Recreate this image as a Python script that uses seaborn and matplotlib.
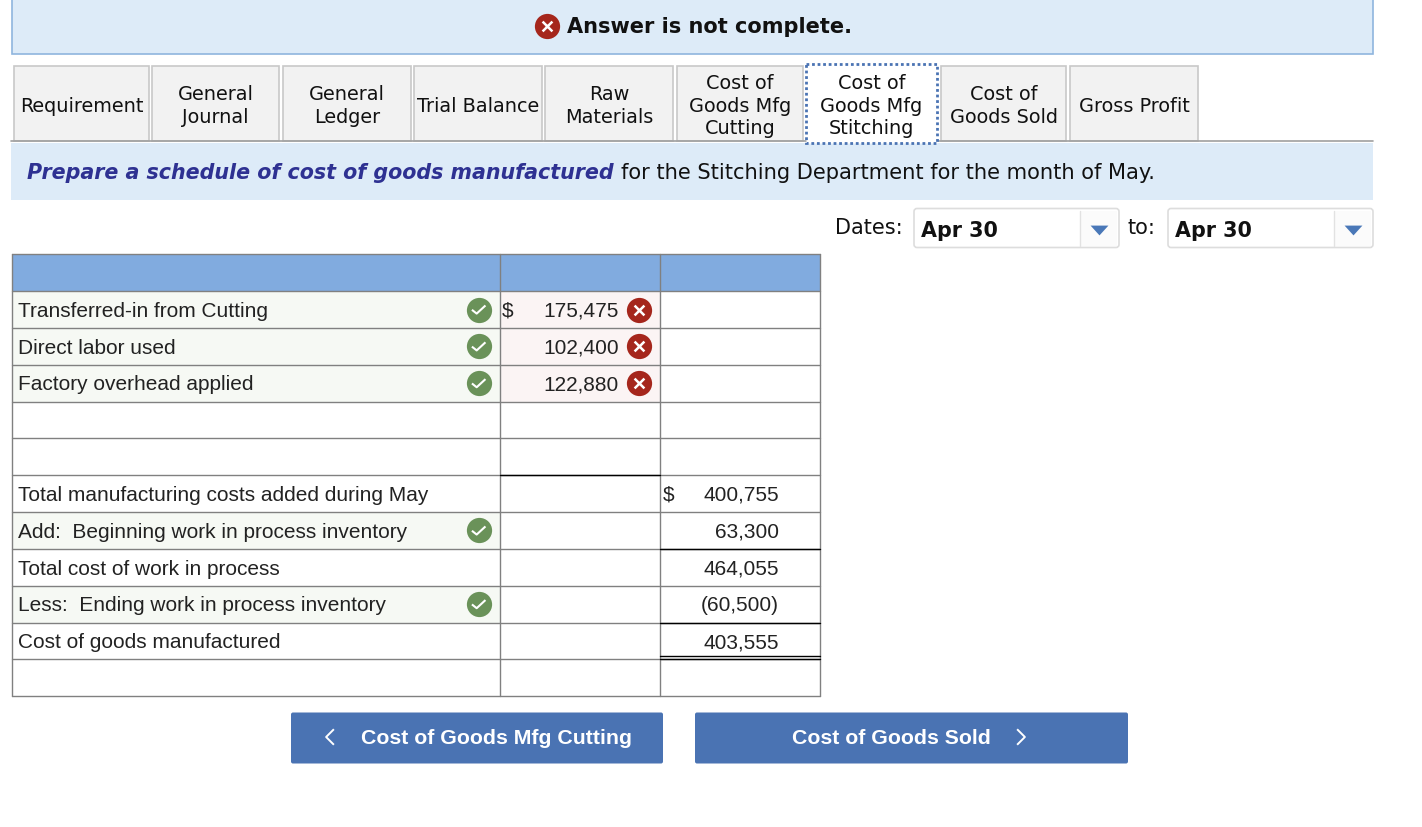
import numpy as np
import pandas as pd
import matplotlib
matplotlib.use("Agg")
import matplotlib.pyplot as plt
import seaborn as sns
from matplotlib.patches import Rectangle, FancyBboxPatch
from matplotlib.path import Path

# Table content
row_labels = ["", "Transferred-in from Cutting", "Direct labor used", "Factory overhead applied", "", "",
              "Total manufacturing costs added during May", "Add:  Beginning work in process inventory",
              "Total cost of work in process", "Less:  Ending work in process inventory",
              "Cost of goods manufactured", ""]
col1_values = ["", "175,475", "102,400", "122,880", "", "", "", "", "", "", "", ""]
col2_values = ["", "", "", "", "", "", "400,755", "63,300", "464,055", "(60,500)", "403,555", ""]
dollar_col1 = [1]
dollar_col2 = [6]
check_rows = [1, 2, 3, 7, 9]
wrong_rows = [1, 2, 3]

tab_labels = ["Requirement", "General\nJournal", "General\nLedger", "Trial Balance", "Raw\nMaterials",
              "Cost of\nGoods Mfg\nCutting", "Cost of\nGoods Mfg\nStitching", "Cost of\nGoods Sold", "Gross Profit"]
tab_left = [14, 152, 283, 414, 545, 677, 806, 941, 1070]
tab_right = [149, 279, 411, 542, 673, 803, 937, 1066, 1198]
active_tab = 6

BODY = "DejaVu Sans"
CELL = "Liberation Sans"
BLUE_BAND = "#DDEBF8"
BTN = "#4A73B3"
GREEN = "#6A9259"
RED = "#A5261C"
GRID = "#808080"
CELL_SIZE = 15.0

sns.set_theme(style="white")
plt.rcParams["font.family"] = [BODY]

fig, ax = plt.subplots(figsize=(14.22, 8.28), dpi=100)
fig.subplots_adjust(0, 0, 1, 1)
ax.set_xlim(0, 1422)
ax.set_ylim(827.5, -0.5)
ax.axis("off")


def box(x0, y0, x1, y1, fc="none", ec="none", lw=1.0, z=1, **kw):
    ax.add_patch(Rectangle((x0, y0), x1 - x0, y1 - y0, facecolor=fc, edgecolor=ec, linewidth=lw, zorder=z, **kw))


# Banner
box(11.5, -3, 1373, 54, fc=BLUE_BAND, ec="#8FB5DE", lw=1.2)
ax.text(567, 32.8, "Answer is not complete.", fontsize=15.0, fontweight="bold", va="baseline", color="#111111")

# Tabs
for i, label in enumerate(tab_labels):
    if i == active_tab:
        box(tab_left[i], 64.5, tab_right[i], 143.5, fc="white", ec=BTN, lw=2, z=3, linestyle=(0, (1, 1)))
    else:
        box(tab_left[i], 66.5, tab_right[i], 141, fc="#F2F2F2", ec="#C8C8C8", lw=1.2)
    n_lines = label.count("\n")
    ax.text((tab_left[i] + tab_right[i]) / 2, 111.3 + 11.2 * n_lines, label, fontsize=13.9, ha="center",
            va="baseline", linespacing=1.24, color="#111111", zorder=4)
ax.plot([11, 1373], [141.5, 141.5], color="#A0A0A0", lw=1.2, zorder=2)

# Instruction band
box(11, 143, 1373, 200, fc=BLUE_BAND)
ax.text(27, 178.8, "Prepare a schedule of cost of goods manufactured", fontsize=14.9, fontweight="bold",
        fontstyle="italic", color="#2E3192", va="baseline")
ax.text(621, 178.8, "for the Stitching Department for the month of May.", fontsize=15.13, va="baseline", color="#111111")

# Date selectors
arrow = Path([(-1, 0.55), (1, 0.55), (0, -0.55), (-1, 0.55)], closed=True)
ax.text(835, 233.8, "Dates:", fontsize=15.0, va="baseline", color="#111111")
ax.text(1128, 233.8, "to:", fontsize=15.0, va="baseline", color="#111111")
for x0, x1 in [(914, 1119), (1168, 1373)]:
    box(x1 - 39, 211, x1 - 2, 246, fc="#FBFBFB")
    ax.add_patch(FancyBboxPatch((x0, 209), x1 - x0, 39, boxstyle="round,pad=0,rounding_size=3",
                                facecolor="none", edgecolor="#DDDDDD", linewidth=1.2, zorder=2))
    ax.plot([x1 - 39, x1 - 39], [211, 246], color="#E2E2E2", lw=1)
    ax.text(x0 + 7, 236.1, "Apr 30", fontsize=14.9, fontweight="bold", va="baseline", color="#111111")
    ax.scatter([x1 - 20], [230.5], marker=arrow, s=165, color="#4A78B8", linewidths=0, zorder=3)

# Schedule table
col_x = [12, 500, 660, 820]
row_y = np.linspace(254.8, 696.7, 13)
row_mid = (row_y[:-1] + row_y[1:]) / 2
text_base = row_mid + 6.2

box(col_x[0], row_y[0], col_x[3], row_y[1], fc="#81ABDF")
for r in check_rows:
    box(col_x[0], row_y[r], col_x[1], row_y[r + 1], fc="#F6F9F4")
for r in wrong_rows:
    box(col_x[1], row_y[r], col_x[2], row_y[r + 1], fc="#FBF4F4")

for y in row_y:
    ax.plot([col_x[0], col_x[3]], [y, y], color=GRID, lw=1.0, zorder=2)
for x in col_x:
    ax.plot([x, x], [row_y[0], row_y[-1]], color=GRID, lw=1.0, zorder=2)

# Rules under totals
ax.plot([col_x[1], col_x[2]], [row_y[6] - 0.3] * 2, color="black", lw=1.0, zorder=3)
for r in [8, 10]:
    ax.plot([col_x[2], col_x[3]], [row_y[r]] * 2, color="black", lw=1.0, zorder=3)
ax.plot([col_x[2], col_x[3]], [row_y[11] - 3, row_y[11] - 3], color="black", lw=1.0, zorder=3)
ax.plot([col_x[2], col_x[3]], [row_y[11] - 0.2] * 2, color="black", lw=1.0, zorder=3)

# Cell text
for r, label in enumerate(row_labels):
    if label:
        ax.text(18, text_base[r], label, family=CELL, fontsize=CELL_SIZE, va="baseline", color="#222222")
    if col1_values[r]:
        ax.text(619, text_base[r], col1_values[r], family=CELL, fontsize=CELL_SIZE, va="baseline", ha="right", color="#222222")
    if col2_values[r]:
        ax.text(779, text_base[r], col2_values[r], family=CELL, fontsize=CELL_SIZE, va="baseline", ha="right", color="#222222")
for r in dollar_col1:
    ax.text(502, text_base[r], "$", family=CELL, fontsize=CELL_SIZE, va="baseline", color="#222222")
for r in dollar_col2:
    ax.text(663, text_base[r], "$", family=CELL, fontsize=CELL_SIZE, va="baseline", color="#222222")

# Status icons
check_df = pd.DataFrame({"x": 478.7, "y": row_mid[check_rows]})
wrong_df = pd.DataFrame({"x": 638.7, "y": row_mid[wrong_rows]})
top_df = pd.DataFrame({"x": [547], "y": [26.7]})
tick = Path([(-0.5, -0.02), (-0.15, -0.3), (0.5, 0.3)], [Path.MOVETO, Path.LINETO, Path.LINETO])

sns.scatterplot(data=check_df, x="x", y="y", s=330, color=GREEN, linewidth=0, ax=ax, zorder=4)
ax.scatter(check_df["x"], check_df["y"], marker=tick, s=95, facecolors="none", edgecolors="white", linewidths=1.5, zorder=5)
for df in [wrong_df, top_df]:
    sns.scatterplot(data=df, x="x", y="y", s=330, color=RED, linewidth=0, ax=ax, zorder=4)
    ax.scatter(df["x"], df["y"], marker="x", s=50, color="white", linewidths=1.8, zorder=5)
ax.set_xlabel("")
ax.set_ylabel("")

# Nav buttons
for x0, x1 in [(291, 663), (695, 1128)]:
    ax.add_patch(FancyBboxPatch((x0, 713), x1 - x0, 51, boxstyle="round,pad=0,rounding_size=2",
                                facecolor=BTN, edgecolor="none"))
ax.text(361, 743.8, "Cost of Goods Mfg Cutting", family=CELL, fontweight="bold", fontsize=15.3, va="baseline", color="white")
ax.text(792, 743.8, "Cost of Goods Sold", family=CELL, fontweight="bold", fontsize=15.3, va="baseline", color="white")
back = Path([(0.5, 1), (-0.5, 0), (0.5, -1)], [Path.MOVETO, Path.LINETO, Path.LINETO])
fwd = Path([(-0.5, 1), (0.5, 0), (-0.5, -1)], [Path.MOVETO, Path.LINETO, Path.LINETO])
ax.scatter([330], [737.5], marker=back, s=125, facecolors="none", edgecolors="white", linewidths=1.4, zorder=3)
ax.scatter([1021], [737.5], marker=fwd, s=125, facecolors="none", edgecolors="white", linewidths=1.4, zorder=3)

fig.savefig("out.png", dpi=100)
